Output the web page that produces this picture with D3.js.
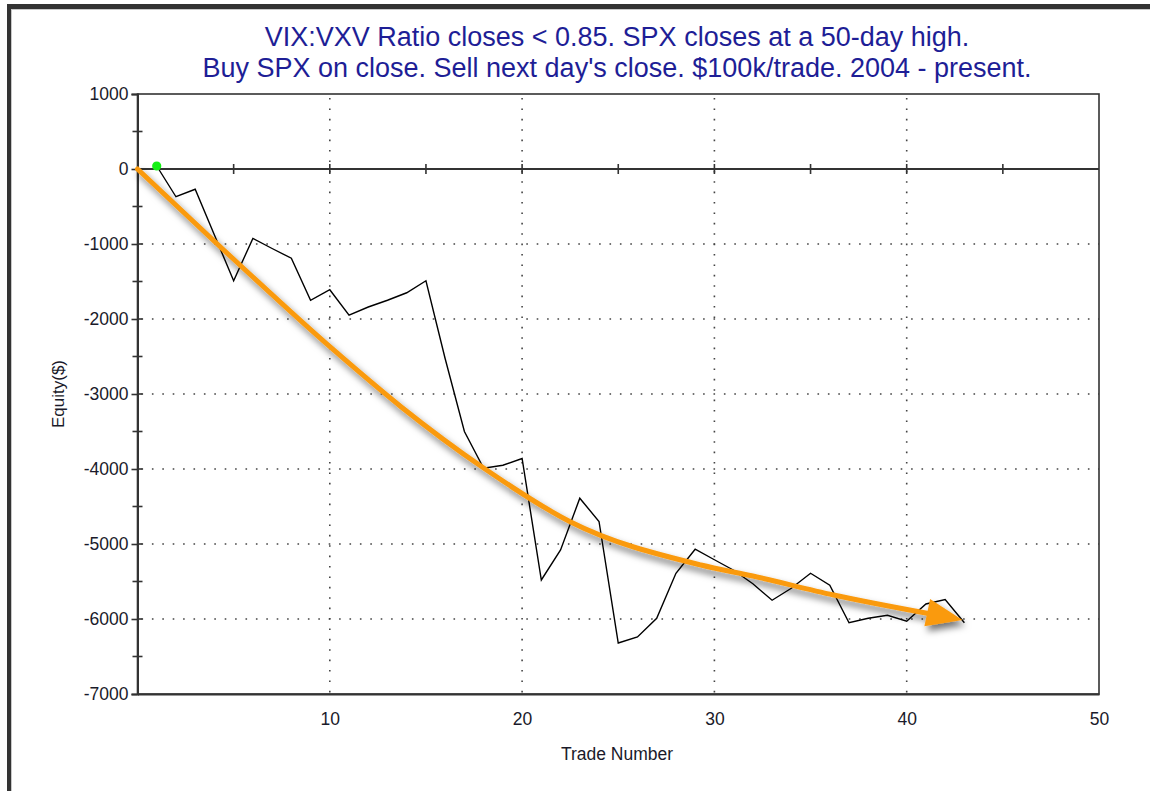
<!DOCTYPE html>
<meta charset="utf-8">
<head>
<style>
	body {
	margin: 0;
	background-color: #ffffff;
	font-family: 'Liberation Sans', Arial, sans-serif;
	}
	.tick text {
	font-family: 'Liberation Sans', Arial, sans-serif;
	}
</style>
</head>
<body>
<div id="my_chart"></div>

<script src="https://d3js.org/d3.v7.min.js"></script>
<script>

// chart data
var tradeNumbers = [1, 2, 3, 4, 5, 6, 7, 8, 9, 10,
  11, 12, 13, 14, 15, 16, 17, 18, 19, 20,
  21, 22, 23, 24, 25, 26, 27, 28, 29, 30,
  31, 32, 33, 34, 35, 36, 37, 38, 39, 40,
  41, 42, 43];
var equity = [40, -370, -270, -880, -1490, -925, -1060, -1190, -1750, -1610,
  -1950, -1840, -1750, -1650, -1490, -2530, -3500, -3990, -3950, -3860,
  -5480, -5080, -4390, -4700, -6320, -6240, -5990, -5390, -5070, -5210,
  -5350, -5530, -5750, -5590, -5390, -5550, -6050, -5990, -5950, -6030,
  -5800, -5740, -6050];

// tick values
var yTicks = [1000, 0, -1000, -2000, -3000, -4000, -5000, -6000, -7000];
var yHalfTicks = [500, -500, -1500, -2500, -3500, -4500, -5500, -6500];
var yGrid = [-1000, -2000, -3000, -4000, -5000, -6000];
var xTicks = [10, 20, 30, 40, 50];
var xGrid = [10, 20, 30, 40];
var xZeroTicks = [5, 10, 15, 20, 25, 30, 35, 40, 45];

// hand drawn trend arrow (trade number, equity)
var arrowTrade = [0, 4.3, 10.2, 13.7, 18.0, 22.5, 29.3, 32.0, 36.2, 41.2];
var arrowEquity = [0, -1036, -2413, -3169, -3987, -4703, -5280, -5427, -5680, -5930];
var arrowTip = [42.9, -6013];

var titleLines = [
  "VIX:VXV Ratio closes < 0.85. SPX closes at a 50-day high.",
  "Buy SPX on close. Sell next day's close. $100k/trade. 2004 - present."
];

var W = 1150, H = 791;
var plot = {left: 137.5, right: 1099, top: 94, bottom: 694};

var svg = d3.select("#my_chart")
  .append("svg")
    .attr("width", W)
    .attr("height", H)
    .style("display", "block");

svg.append("rect")
  .attr("width", W).attr("height", H)
  .style("fill", "#ffffff");

// window frame (top and left edge)
svg.append("rect")
  .attr("x", 7).attr("y", 4).attr("width", W - 7).attr("height", 5)
  .style("fill", "#333333");
svg.append("rect")
  .attr("x", 7).attr("y", 4).attr("width", 4).attr("height", H - 4)
  .style("fill", "#333333");
svg.append("line")
  .attr("x1", 11).attr("x2", W).attr("y1", 9.5).attr("y2", 9.5)
  .style("stroke", "#c8c8c8").style("stroke-width", 1);
svg.append("line")
  .attr("x1", 11.5).attr("x2", 11.5).attr("y1", 9).attr("y2", H)
  .style("stroke", "#c8c8c8").style("stroke-width", 1);

// scales
var x = d3.scaleLinear()
  .domain([0, 50])
  .range([plot.left, plot.right]);

var y = d3.scaleLinear()
  .domain([-7000, 1000])
  .range([plot.bottom, plot.top]);

// title
svg.selectAll(".title")
  .data(titleLines)
  .enter()
  .append("text")
    .attr("class", "title")
    .attr("x", 617)
    .attr("y", function(d, i) { return 46 + i * 31; })
    .attr("text-anchor", "middle")
    .style("font-size", "27px")
    .style("fill", "#1e1e96")
    .text(function(d) { return d; });

// dotted grid
var dots = "1.6,8.8";
svg.selectAll(".hgrid")
  .data(yGrid)
  .enter()
  .append("line")
    .attr("x1", plot.left + 4)
    .attr("x2", plot.right)
    .attr("y1", function(d) { return y(d); })
    .attr("y2", function(d) { return y(d); })
    .style("stroke", "#444")
    .style("stroke-width", 1.6)
    .style("stroke-dasharray", dots);

svg.selectAll(".vgrid")
  .data(xGrid)
  .enter()
  .append("line")
    .attr("x1", function(d) { return x(d); })
    .attr("x2", function(d) { return x(d); })
    .attr("y1", plot.top + 4)
    .attr("y2", plot.bottom)
    .style("stroke", "#444")
    .style("stroke-width", 1.6)
    .style("stroke-dasharray", dots);

// plot frame
svg.append("rect")
  .attr("x", plot.left)
  .attr("y", plot.top)
  .attr("width", plot.right - plot.left)
  .attr("height", plot.bottom - plot.top)
  .style("fill", "none")
  .style("stroke", "#333")
  .style("stroke-width", 1.6);

// y axis
var yAxis = svg.append("g")
  .attr("transform", "translate(" + plot.left + ",0)")
  .call(d3.axisLeft(y)
    .tickValues(yTicks)
    .tickSize(6)
    .tickPadding(3)
    .tickFormat(function(d) { return String(d); }));
yAxis.select(".domain")
  .style("stroke", "#333")
  .style("stroke-width", 2);
yAxis.selectAll(".tick line")
  .style("stroke", "#333")
  .style("stroke-width", 1.6);
yAxis.selectAll(".tick text")
  .style("font-size", "17.5px")
  .style("fill", "#1a1a2a");

// right half of the y ticks + half step ticks crossing the axis
svg.selectAll(".yright")
  .data(yTicks.slice(1, -1).concat(yHalfTicks))
  .enter()
  .append("line")
    .attr("x1", function(d) { return yHalfTicks.indexOf(d) >= 0 ? plot.left - 5 : plot.left; })
    .attr("x2", plot.left + 5)
    .attr("y1", function(d) { return y(d); })
    .attr("y2", function(d) { return y(d); })
    .style("stroke", "#333")
    .style("stroke-width", 1.6);

// x axis labels under the plot
var xAxis = svg.append("g")
  .attr("transform", "translate(0," + plot.bottom + ")")
  .call(d3.axisBottom(x)
    .tickValues(xTicks)
    .tickSize(0)
    .tickPadding(19)
    .tickFormat(function(d) { return String(d); }));
xAxis.select(".domain")
  .style("stroke", "#333")
  .style("stroke-width", 2);
xAxis.selectAll(".tick text")
  .style("font-size", "17.5px")
  .style("fill", "#1a1a2a");

// zero line with ticks
svg.append("line")
  .attr("x1", plot.left)
  .attr("x2", plot.right)
  .attr("y1", y(0))
  .attr("y2", y(0))
  .style("stroke", "#333")
  .style("stroke-width", 2);

svg.selectAll(".zerotick")
  .data(xZeroTicks)
  .enter()
  .append("line")
    .attr("x1", function(d) { return x(d); })
    .attr("x2", function(d) { return x(d); })
    .attr("y1", y(0) - 5)
    .attr("y2", y(0) + 5)
    .style("stroke", "#333")
    .style("stroke-width", 1.6);

// axis titles
svg.append("text")
  .attr("x", 617)
  .attr("y", 760)
  .attr("text-anchor", "middle")
  .style("font-size", "17.5px")
  .style("fill", "#1a1a2a")
  .text("Trade Number");

svg.append("text")
  .attr("transform", "translate(64," + ((plot.top + plot.bottom) / 2) + ") rotate(-90)")
  .attr("text-anchor", "middle")
  .style("font-size", "17px")
  .style("fill", "#1a1a2a")
  .text("Equity($)");

// equity curve
var data = tradeNumbers.map(function(t, i) { return {trade: t, value: equity[i]}; });

var line = d3.line()
  .x(function(d) { return x(d.trade); })
  .y(function(d) { return y(d.value); });

svg.append("path")
  .datum(data)
  .attr("d", line)
  .style("fill", "none")
  .style("stroke", "#000")
  .style("stroke-width", 1.4)
  .style("stroke-linejoin", "miter");

// first trade marker
svg.append("circle")
  .attr("cx", x(data[0].trade))
  .attr("cy", y(data[0].value))
  .attr("r", 4.6)
  .style("fill", "#14f014");

// trend arrow with shadow
var defs = svg.append("defs");
var filter = defs.append("filter")
  .attr("id", "shadow")
  .attr("x", "-20%").attr("y", "-20%")
  .attr("width", "140%").attr("height", "140%");
filter.append("feDropShadow")
  .attr("dx", 3)
  .attr("dy", 5)
  .attr("stdDeviation", 3.5)
  .attr("flood-color", "#000")
  .attr("flood-opacity", 0.55);

var arrowData = arrowTrade.map(function(t, i) { return [x(t), y(arrowEquity[i])]; });

var arrowLine = d3.line().curve(d3.curveMonotoneX);

var arrowG = svg.append("g").attr("filter", "url(#shadow)");

arrowG.append("path")
  .attr("d", arrowLine(arrowData))
  .style("fill", "none")
  .style("stroke", "#fa9a10")
  .style("stroke-width", 5)
  .style("stroke-linecap", "round");

// arrow head along the last segment
var tip = [x(arrowTip[0]), y(arrowTip[1])];
var prev = arrowData[arrowData.length - 3];
var dx = tip[0] - prev[0], dy = tip[1] - prev[1];
var len = Math.sqrt(dx * dx + dy * dy);
dx /= len; dy /= len;
var base = [tip[0] - 36 * dx, tip[1] - 36 * dy];
var hw = 14;
arrowG.append("path")
  .attr("d", "M" + tip[0] + "," + tip[1] +
    "L" + (base[0] - hw * dy) + "," + (base[1] + hw * dx) +
    "L" + (base[0] + hw * dy) + "," + (base[1] - hw * dx) + "Z")
  .style("fill", "#fa9a10");

</script>
</body>
